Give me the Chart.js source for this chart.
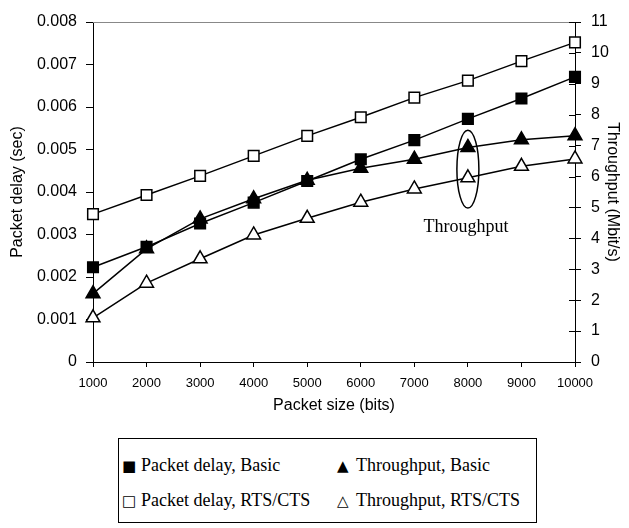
<!DOCTYPE html>
<html>
<head>
<title>Packet delay and throughput</title>
<script src="https://cdn.jsdelivr.net/npm/chart.js"></script>
<style>
  body { margin: 0; background: #fff; }
  #wrap { position: relative; width: 629px; height: 528px; }
  #box { position: relative; width: 629px; height: 420px; }
  #legend {
    position: absolute; left: 118px; top: 438px; width: 419px; height: 85px;
    border: 1px solid #000; box-sizing: border-box;
    font-family: "Liberation Serif", "Times New Roman", serif; font-size: 18px; color: #000;
  }
  #legend .item { position: absolute; white-space: nowrap; line-height: 20px; }
  #legend .sym { font-family: "DejaVu Sans", sans-serif; font-size: 15px; display: inline-block; width: 19px; }
</style>
</head>
<body>
<div id="wrap">
  <div id="box"><canvas id="canvas"></canvas></div>
  <div id="legend"></div>
</div>

<script>
// valores
const packetSize = [1000, 2000, 3000, 4000, 5000, 6000, 7000, 8000, 9000, 10000]
const delayBasic = [0.00223, 0.00271, 0.00326, 0.00375, 0.00426, 0.00477, 0.00522, 0.00572, 0.00620, 0.00671]
const delayRts = [0.00348, 0.00393, 0.00438, 0.00485, 0.00532, 0.00576, 0.00622, 0.00662, 0.00708, 0.00752]
const thrBasic = [2.21, 3.66, 4.63, 5.28, 5.88, 6.27, 6.56, 6.94, 7.19, 7.32]
const thrRts = [1.43, 2.55, 3.34, 4.11, 4.65, 5.17, 5.60, 5.96, 6.33, 6.57]

const delayTicks = [0, 0.001, 0.002, 0.003, 0.004, 0.005, 0.006, 0.007, 0.008]
const thrTicks = [0, 1, 2, 3, 4, 5, 6, 7, 8, 9, 10, 11]

// anotacao "Throughput" (elipse em x=8000)
const noteX = 8000
const noteTop = 7.5
const noteBottom = 4.98
const noteText = 'Throughput'
const noteTextY = 4.35

function pts(ys) {
  return packetSize.map((x, i) => ({ x: x, y: ys[i] }))
}

const series = [
  { label: 'Packet delay, Basic', sym: '\u25A0', data: delayBasic, axis: 'y', style: 'rect', fill: '#000' },
  { label: 'Throughput, Basic', sym: '\u25B2', data: thrBasic, axis: 'y2', style: 'triangle', fill: '#000' },
  { label: 'Packet delay, RTS/CTS', sym: '\u25A1', data: delayRts, axis: 'y', style: 'rect', fill: '#fff' },
  { label: 'Throughput, RTS/CTS', sym: '\u25B3', data: thrRts, axis: 'y2', style: 'triangle', fill: '#fff' }
]

const datasets = series.map(s => ({
  label: s.label,
  data: pts(s.data),
  yAxisID: s.axis,
  clip: false,
  borderColor: '#000',
  borderWidth: 1.5,
  pointStyle: s.style,
  pointRadius: s.style == 'rect' ? 7.5 : 8,
  pointBackgroundColor: s.fill,
  pointBorderColor: '#000',
  pointBorderWidth: 1.5,
  tension: 0,
  fill: false
}))

const extras = {
  id: 'extras',
  afterDraw(chart) {
    const ctx = chart.ctx
    const a = chart.chartArea
    const xs = chart.scales.x
    const y2 = chart.scales.y2
    ctx.save()
    // borda superior cinza
    ctx.strokeStyle = '#888'
    ctx.lineWidth = 1
    ctx.beginPath()
    ctx.moveTo(a.left, a.top + 0.5)
    ctx.lineTo(a.right, a.top + 0.5)
    ctx.stroke()
    // ticks do eixo direito cruzando o eixo
    ctx.strokeStyle = '#000'
    thrTicks.forEach(t => {
      const py = Math.round(y2.getPixelForValue(t)) + 0.5
      ctx.beginPath()
      ctx.moveTo(a.right - 6, py)
      ctx.lineTo(a.right, py)
      ctx.stroke()
    })
    // elipse
    const cx = xs.getPixelForValue(noteX)
    const top = y2.getPixelForValue(noteTop)
    const bot = y2.getPixelForValue(noteBottom)
    ctx.lineWidth = 1.5
    ctx.beginPath()
    ctx.ellipse(cx, (top + bot) / 2, 11, (bot - top) / 2, 0, 0, Math.PI * 2)
    ctx.stroke()
    ctx.fillStyle = '#000'
    ctx.font = '18px "Liberation Serif", "Times New Roman", serif'
    ctx.textAlign = 'center'
    ctx.textBaseline = 'middle'
    ctx.fillText(noteText, cx - 2, y2.getPixelForValue(noteTextY))
    ctx.restore()
  }
}

const sans = '"Liberation Sans", Arial, sans-serif'

const canvas = document.querySelector('#canvas')
const chart = new Chart(canvas.getContext('2d'), {
  type: 'line',
  data: { datasets: datasets },
  options: {
    responsive: true,
    maintainAspectRatio: false,
    animation: false,
    layout: { padding: { top: 22, left: 0, right: 0, bottom: 0 } },
    plugins: { legend: { display: false }, tooltip: { enabled: false } },
    scales: {
      x: {
        type: 'linear',
        min: 1000,
        max: 10000,
        afterFit: s => { s.height = 58 },
        afterBuildTicks: s => { s.ticks = packetSize.map(v => ({ value: v })) },
        ticks: { color: '#000', font: { family: sans, size: 13 }, padding: 9, maxRotation: 0, callback: v => String(v) },
        grid: { drawOnChartArea: false, color: '#000', tickLength: 5 },
        border: { color: '#000', width: 1 },
        title: { display: true, text: 'Packet size (bits)', color: '#000', font: { family: sans, size: 16 }, padding: { top: 0, bottom: 5 } }
      },
      y: {
        position: 'left',
        min: 0,
        max: 0.008,
        afterFit: s => { s.width = 93 },
        afterBuildTicks: s => { s.ticks = delayTicks.map(v => ({ value: v })) },
        ticks: { color: '#000', font: { family: sans, size: 16 }, padding: 9, callback: v => v == 0 ? '0' : v.toFixed(3) },
        grid: { drawOnChartArea: false, color: '#000', tickLength: 7 },
        border: { color: '#000', width: 1 },
        title: { display: true, text: 'Packet delay (sec)', color: '#000', font: { family: sans, size: 16 }, padding: { top: 8, bottom: 0 } }
      },
      y2: {
        position: 'right',
        min: 0,
        max: 11,
        afterFit: s => { s.width = 54 },
        afterBuildTicks: s => { s.ticks = thrTicks.map(v => ({ value: v })) },
        ticks: { color: '#000', font: { family: sans, size: 16 }, padding: 10, callback: v => String(v) },
        grid: { drawOnChartArea: false, color: '#000', tickLength: 6 },
        border: { color: '#000', width: 1 },
        title: { display: true, text: 'Throughput (Mbit/s)', color: '#000', font: { family: sans, size: 16 }, padding: { top: 7, bottom: 0 } }
      }
    }
  },
  plugins: [extras]
})

// legenda 2x2 em html
const legend = document.querySelector('#legend')
const slots = [[3, 16], [218, 16], [3, 51], [218, 51]]
series.forEach((s, i) => {
  const d = document.createElement('div')
  d.className = 'item'
  d.style.left = slots[i][0] + 'px'
  d.style.top = slots[i][1] + 'px'
  d.innerHTML = '<span class="sym">' + s.sym + '</span>' + s.label
  legend.appendChild(d)
})
</script>
</body>
</html>
